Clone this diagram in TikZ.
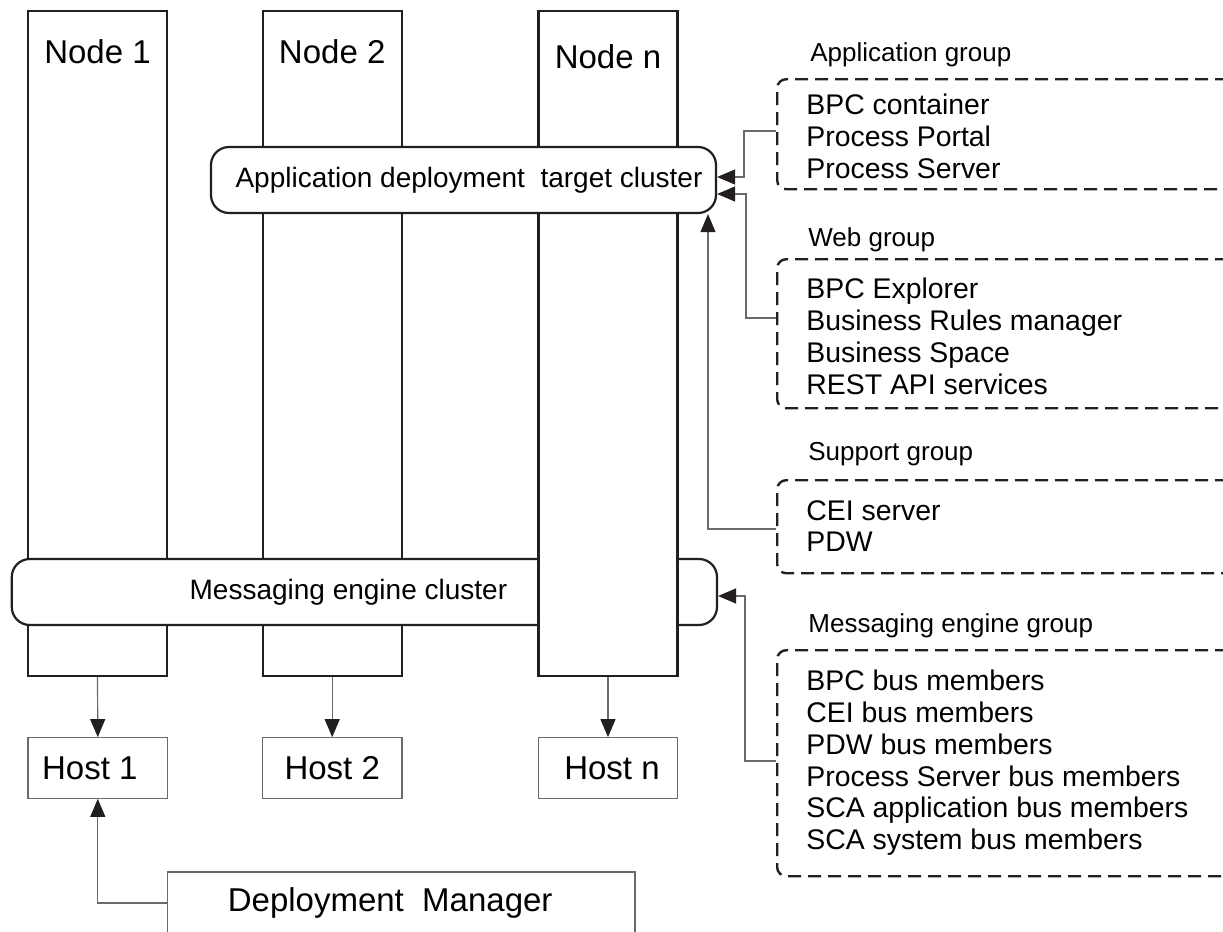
\documentclass[tikz,border=0pt]{standalone}
\usepackage{fontspec}
\setmainfont{Liberation Sans}
\usetikzlibrary{arrows.meta}

\definecolor{Ink}{HTML}{231F20}
\definecolor{Wire}{HTML}{6A6A6A}

\begin{document}
\begin{tikzpicture}[x=0.5pt, y=-0.5pt,
  nodebox/.style={draw=Ink, line width=1.1pt, fill=white, minimum width=69.5pt, minimum height=332.5pt, inner sep=0pt},
  nodetitle/.style={anchor=base, inner sep=0pt, font=\fontsize{16.5}{18}\selectfont},
  cluster/.style={draw=Ink, line width=1.1pt, fill=white, rounded corners=9pt, minimum height=33pt, inner sep=0pt, font=\fontsize{14}{16}\selectfont},
  hostbox/.style={draw=Wire, line width=0.6pt, fill=white, minimum width=69.8pt, minimum height=30.3pt, inner sep=0pt, font=\fontsize{16.5}{18}\selectfont},
  group/.style={draw=Ink, line width=1.2pt, dash pattern=on 6.5pt off 3.5pt, rounded corners=4.5pt, minimum width=300pt, anchor=north west, inner sep=0pt},
  grouptitle/.style={anchor=base west, inner sep=0pt, font=\fontsize{13}{15}\selectfont},
  items/.style={anchor=north west, inner sep=0pt, align=left, font=\fontsize{14.2}{15.85}\selectfont},
  link/.style={draw=Wire, line width=0.6pt, -{Triangle[length=9pt, width=7.5pt, color=Ink]}}
]

  %%%%%%%%%% Frame %%%%%%%%%%
  \useasboundingbox (0,0) rectangle (1223,932);
  \fill[white] (0,0) rectangle (1223,932);
  \clip (0,0) rectangle (1223,932);

  %%%%%%%%%% Nodes and clusters %%%%%%%%%%
  \node[nodebox, label={[nodetitle, yshift=-27pt]north:Node 1}] (node1) at (97.5,343.5) {};
  \node[nodebox, label={[nodetitle, yshift=-27pt]north:Node 2}] (node2) at (332.2,343.5) {};
  \node[cluster, minimum width=352.6pt] (mecl) at (364.4,592) {Messaging engine cluster\hspace*{16pt}};
  \node[nodebox, label={[nodetitle, yshift=-29.5pt]north:Node n}] (noden) at (608,343.5) {};
  \node[cluster, minimum width=252.5pt] (appcl) at (463.5,180) {\hspace*{5.5pt}Application deployment\ \ target cluster};

  %%%%%%%%%% Hosts %%%%%%%%%%
  \node[hostbox] (host1) at (97.8,768) {Host 1\hspace*{8pt}};
  \node[hostbox] (host2) at (332.2,768) {Host 2};
  \node[hostbox] (hostn) at (608,768) {\hspace*{4pt}Host n};
  \node[hostbox, minimum width=233.85pt, minimum height=31pt] (dm) at (401.2,903) {Deployment\ \ Manager\hspace*{11pt}};

  %%%%%%%%%% Groups %%%%%%%%%%
  \node[grouptitle] (apptitle) at (810,61) {Application group};
  \node[group, minimum height=55pt] (appgrp) at (776,78) {};
  \node[items] (applist) at (806,94) {BPC container\\Process Portal\\Process Server};

  \node[grouptitle] (webtitle) at (808,246) {Web group};
  \node[group, minimum height=74.5pt] (webgrp) at (776,258) {};
  \node[items] (weblist) at (806,278) {BPC Explorer\\Business Rules manager\\Business Space\\REST API services};

  \node[grouptitle] (suptitle) at (808,460) {Support group};
  \node[group, minimum height=46.5pt] (supgrp) at (776,479) {};
  \node[items] (suplist) at (806,500) {CEI server\\PDW};

  \node[grouptitle] (metitle) at (808,632) {Messaging engine group};
  \node[group, minimum height=113pt] (megrp) at (776,649) {};
  \node[items] (melist) at (806,670) {BPC bus members\\CEI bus members\\PDW bus members\\Process Server bus members\\SCA application bus members\\SCA system bus members};

  %%%%%%%%%% Links %%%%%%%%%%
  \draw[link] (node1.south) -- (host1.north);
  \draw[link] (node2.south) -- (host2.north);
  \draw[link] (noden.south) -- (hostn.north);
  \draw[link] (dm.west) -| (host1.south);

  \draw[link] (appgrp.west |- 0,131) -| (744,177) -- (appcl.east |- 0,177);
  \draw[link] (webgrp.west |- 0,318) -| (746,194) -- (appcl.east |- 0,194);
  \draw[link] (supgrp.west |- 0,529) -| (708,0 |- appcl.south);
  \draw[link] (megrp.west |- 0,761) -| (745,596) -- (mecl.east |- 0,596);

\end{tikzpicture}
\end{document}
